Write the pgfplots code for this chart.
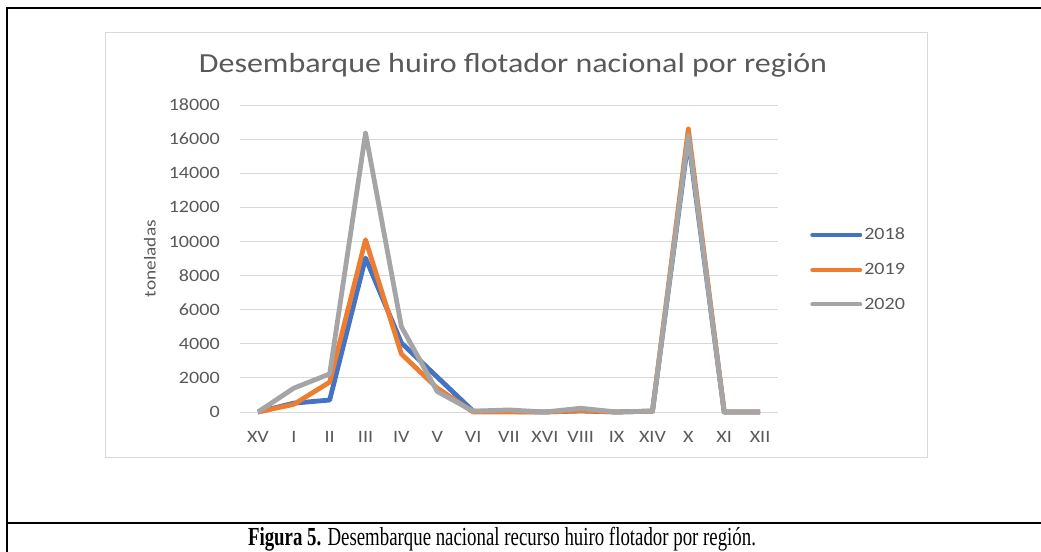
\documentclass[border=0pt]{standalone}
\usepackage{graphicx}
\usepackage{pgfplots}
\pgfplotsset{compat=1.18}
\usepackage{fontspec}
\setmainfont{Carlito}[FakeStretch=1.16]
\newfontfamily\capfont{Liberation Serif}
\definecolor{c18}{HTML}{4472C4}
\definecolor{c19}{HTML}{ED7D31}
\definecolor{c20}{HTML}{A5A5A5}
\definecolor{txt}{HTML}{595959}
\definecolor{gridc}{HTML}{D9D9D9}
\begin{document}
\begin{tikzpicture}
\useasboundingbox (0,0) rectangle (780.75pt,-414pt);
\draw[line width=1.5pt] (5.6pt,-420pt) -- (5.6pt,-6pt) -- (790pt,-6pt);
\draw[line width=1.5pt] (5.6pt,-392.25pt) -- (790pt,-392.25pt);
\draw[draw=gridc, line width=0.75pt] (78.75pt,-24.75pt) rectangle (695.25pt,-342.75pt);
\node[anchor=base, text=txt, font=\fontsize{20.7}{22}\selectfont] at (384.75pt,-54.75pt) {Desembarque huiro flotador nacional por región};
\node[rotate=90, text=txt, font=\fontsize{12.5}{14}\selectfont] at (112.5pt,-193.9pt) {toneladas};
\node[anchor=base, inner sep=0pt] at (376.5pt,-409.1pt) {\resizebox{381pt}{\height}{\capfont\fontsize{19.5}{21}\selectfont\textbf{Figura 5.} Desembarque nacional recurso huiro flotador por región.}};
\begin{axis}[
  at={(180pt,-309pt)}, anchor=south west,
  scale only axis, width=403.5pt, height=230.25pt,
  xmin=-0.5, xmax=14.5, ymin=0, ymax=18000,
  axis line style={draw=none}, major tick length=0pt,
  ymajorgrids, grid style={draw=gridc, line width=0.75pt},
  xtick={0,...,14},
  xticklabels={XV,I,II,III,IV,V,VI,VII,XVI,VIII,IX,XIV,X,XI,XII},
  ytick={0,2000,...,18000}, scaled y ticks=false,
  yticklabel style={/pgf/number format/1000 sep={}, /pgf/number format/assume math mode=true, anchor=east, inner sep=0pt, xshift=-15pt},
  xticklabel style={anchor=center, inner sep=0pt, yshift=-18.75pt},
  tick label style={font=\fontsize{13}{14}\selectfont, text=txt},
  clip=false,
  legend style={at={(axis description cs:1.0595,0.464)}, anchor=west, draw=none, fill=none, inner sep=0pt,
    font=\fontsize{13}{14}\selectfont, text=txt, row sep=13pt, nodes={inner sep=1.5pt},
    /tikz/every even column/.append style={column sep=0pt}},
  legend cell align=left,
  legend image code/.code={\draw[#1, line width=3pt, line cap=round] (0pt,0pt) -- (36pt,0pt);},
  every axis plot/.append style={line width=3.6pt, line join=round, no markers},
]
\addplot[c18] coordinates {(0,0)(1,520)(2,700)(3,9030)(4,4050)(5,2050)(6,50)(7,30)(8,0)(9,60)(10,0)(11,50)(12,16000)(13,0)(14,0)};
\addlegendentry{2018}
\addplot[c19] coordinates {(0,0)(1,450)(2,1750)(3,10100)(4,3400)(5,1400)(6,0)(7,0)(8,0)(9,80)(10,0)(11,50)(12,16600)(13,0)(14,0)};
\addlegendentry{2019}
\addplot[c20] coordinates {(0,0)(1,1400)(2,2230)(3,16350)(4,5000)(5,1200)(6,50)(7,120)(8,0)(9,220)(10,0)(11,60)(12,16200)(13,0)(14,0)};
\addlegendentry{2020}
\end{axis}
\end{tikzpicture}
\end{document}
